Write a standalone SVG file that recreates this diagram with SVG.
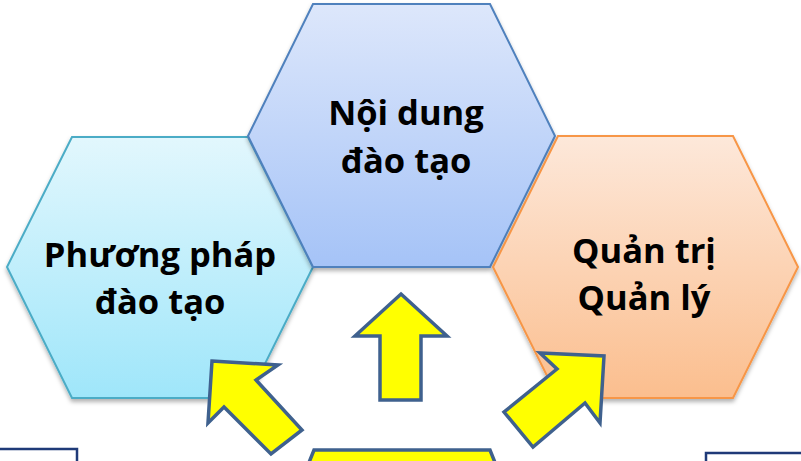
<svg xmlns="http://www.w3.org/2000/svg" width="801" height="461" viewBox="0 0 801 461">
<defs>
<linearGradient id="gCyan" x1="0" y1="0" x2="0" y2="1"><stop offset="0" stop-color="#E2F7FD"/><stop offset="1" stop-color="#9FE6FA"/></linearGradient>
<linearGradient id="gBlue" x1="0" y1="0" x2="0" y2="1"><stop offset="0" stop-color="#DDE7FB"/><stop offset="1" stop-color="#A5C3F7"/></linearGradient>
<linearGradient id="gOrange" x1="0" y1="0" x2="0" y2="1"><stop offset="0" stop-color="#FDE8DA"/><stop offset="1" stop-color="#FBBE8E"/></linearGradient>
<filter id="sh" x="-10%" y="-10%" width="120%" height="125%"><feDropShadow dx="0" dy="3" stdDeviation="2" flood-color="#000" flood-opacity="0.3"/></filter>
</defs>
<style>
.lbl{font-family:"Open Sans","Liberation Sans",sans-serif;font-weight:bold;font-size:34.5px;fill:#000;text-anchor:middle}
.arrow{fill:#FFFF00;stroke:#3F618E;stroke-width:3.5;stroke-linejoin:miter}
.box{fill:#fff;stroke:#1F3A78;stroke-width:2.5}
</style>
<rect width="801" height="461" fill="#fff"/>
<g id="node-phuong-phap">
<polygon points="72,137 248,137 313,267 248,398 72,398 7,267" fill="url(#gCyan)" stroke="#4BACC6" stroke-width="2" filter="url(#sh)"/>
<text class="lbl" x="160" y="267">Phương pháp</text>
<text class="lbl" x="160" y="314">đào tạo</text>
</g>
<g id="node-noi-dung">
<polygon points="313,4 490,4 555,136 490,267 313,267 248,136" fill="url(#gBlue)" stroke="#4F81BD" stroke-width="2" filter="url(#sh)"/>
<text class="lbl" x="406" y="125">Nội dung</text>
<text class="lbl" x="406" y="173">đào tạo</text>
</g>
<g id="node-quan-tri">
<polygon points="558,136 733,136 798,267 733,398 558,398 493,267" fill="url(#gOrange)" stroke="#F79646" stroke-width="2" filter="url(#sh)"/>
<text class="lbl" x="644" y="263">Quản trị</text>
<text class="lbl" x="644" y="310">Quản lý</text>
</g>
<g id="node-bottom">
<polygon points="314,450 490,450 498,470 306,470" class="arrow"/>
<rect class="box" x="-5" y="449" width="82" height="30"/>
<rect class="box" x="706" y="453" width="100" height="30"/>
</g>
<g id="connectors">
<polygon class="arrow" points="401,294 447,336 421,336 421,400 380,400 380,336 355,336"/>
<polygon class="arrow" points="212,361 278,365 256,380 302,430 271,454 224,407 208,423"/>
<polygon class="arrow" points="604,356 600,423 585,403 533,447 504,412 557,369 540,353"/>
</g>
</svg>
